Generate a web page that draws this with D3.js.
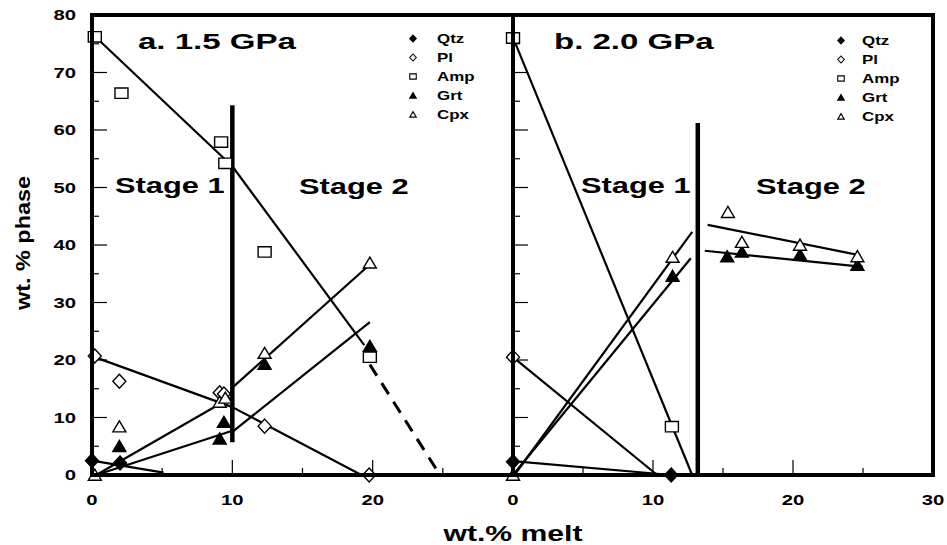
<!DOCTYPE html>
<html>
<head>
<meta charset="utf-8">
<script src="https://cdn.jsdelivr.net/npm/d3@7"></script>
<style>
  body { margin: 0; background: #fff; }
  svg { display: block; }
  text { font-family: "Liberation Sans", Arial, Helvetica, sans-serif; font-weight: bold; fill: #000; }
</style>
</head>
<body>
<svg id="chart" width="947" height="545"></svg>
<script>
// ---- data -------------------------------------------------------------
const phases = ["Qtz", "Pl", "Amp", "Grt", "Cpx"];
const yTickLabels = [0, 10, 20, 30, 40, 50, 60, 70, 80];
const xTickLabelsA = [0, 10, 20];
const xTickLabelsB = [0, 10, 20, 30];
const panelTitles = ["a. 1.5 GPa", "b. 2.0 GPa"];

// a. 1.5 GPa : [wt.% melt, wt.% phase]
const qtzA = [[0, 2.5], [2, 2.1]];
const plA  = [[0.2, 20.7], [1.95, 16.3], [9.1, 14.3], [9.4, 14.1], [12.3, 8.5], [19.75, 0]];
const ampA = [[0.2, 76.2], [2.1, 66.4], [9.2, 57.9], [9.5, 54.2], [12.3, 38.8], [19.8, 20.5]];
const grtA = [[1.95, 5.0], [9.1, 6.3], [9.4, 9.2], [12.3, 19.3], [19.8, 22.4]];
const cpxA = [[0.2, 0], [1.95, 8.4], [9.1, 12.7], [9.5, 13.4], [12.3, 21.2], [19.8, 36.9]];
// trend segments: [phase, x1, y1, x2, y2]
const trendsA = [
  ["Amp", 0.2, 76.3, 10, 53.7], ["Amp", 10, 53.7, 19.4, 22.6],
  ["Pl", 0.2, 20.5, 10, 11.8],  ["Pl", 10, 11.8, 19.2, 0],
  ["Qtz", 0, 2.5, 5.1, 0.4],
  ["Grt", 0.3, 0, 10, 7.7],     ["Grt", 10, 7.5, 19.8, 26.6],
  ["Cpx", 0.3, 0, 10, 13.6],    ["Cpx", 10, 15.2, 19.8, 36.6]
];
const projectedA = [["Amp", 19.8, 19.2, 24.8, 0]];
const stageBreakA = [10, 5.7, 64.3];   // melt %, from, to

// b. 2.0 GPa
const qtzB = [[0, 2.3], [11.3, 0]];
const plB  = [[0, 20.5]];
const ampB = [[0, 76], [11.35, 8.4]];
const grtB = [[11.4, 34.6], [15.3, 38.0], [16.35, 38.8], [20.5, 38.3], [24.6, 36.5]];
const cpxB = [[0, 0], [11.4, 37.9], [15.35, 45.7], [16.35, 40.5], [20.5, 40.0], [24.6, 38.0]];
const trendsB = [
  ["Amp", 0.1, 75.5, 12.8, 0], ["Pl", 0, 20.5, 10.3, 0], ["Qtz", 0, 2.4, 11.3, 0],
  ["Grt", 0, 0, 12.7, 37.7],   ["Cpx", 0.1, 0, 12.8, 42.3],
  ["Cpx", 13.9, 43.5, 24.8, 38.2], ["Grt", 13.7, 39.0, 25, 36.2]
];
const projectedB = [];
const stageBreakB = [13.2, 0, 61.2];

// ---- layout -----------------------------------------------------------
const svg = d3.select("#chart");
const plotTop = 15, plotBottom = 475;
const y = d3.scaleLinear().domain([0, 80]).range([plotBottom, plotTop]);
const xA = d3.scaleLinear().domain([0, 30]).range([92, 513]);
const xB = d3.scaleLinear().domain([0, 30]).range([513, 933]);

// stretched bold text, matching a wide grotesque face
function label(g, s, x, yPos, size, k, anchor = "start") {
  const t = g.append("text").attr("font-size", size).text(s);
  const w = t.node().getComputedTextLength() * k;
  const x0 = anchor === "middle" ? x - w / 2 : anchor === "end" ? x - w : x;
  t.attr("x", x0).attr("y", yPos)
   .attr("textLength", w).attr("lengthAdjust", "spacingAndGlyphs");
  return t;
}

// marker shapes
function symbolPath(type, s) {
  const w = 6.5 * s, h = 5.2 * s;
  switch (type) {
    case "Qtz":
    case "Pl":  return `M0,${-7 * s}L${w},0L0,${7 * s}L${-w},0Z`;
    case "Amp": return `M${-w},${-h}H${w}V${h}H${-w}Z`;
    default:    return `M0,${-5.8 * s}L${w},${5.2 * s}L${-w},${5.2 * s}Z`;
  }
}
const filled = { Qtz: true, Pl: false, Amp: false, Grt: true, Cpx: false };

function drawMarkers(g, x, type, pts) {
  g.selectAll(null).data(pts).join("path")
    .attr("transform", d => `translate(${x(d[0])},${y(d[1])})`)
    .attr("d", symbolPath(type, 1))
    .attr("fill", filled[type] ? "#000" : "#fff")
    .attr("stroke", "#000").attr("stroke-width", 1.4)
    .attr("stroke-linejoin", "miter");
}

function drawPanel(x, cfg) {
  const g = svg.append("g");

  // trend lines
  g.selectAll(null).data(cfg.trends).join("line")
    .attr("x1", d => x(d[1])).attr("y1", d => y(d[2]))
    .attr("x2", d => x(d[3])).attr("y2", d => y(d[4]))
    .attr("stroke", "#000").attr("stroke-width", 2.2);
  g.selectAll(null).data(cfg.projected).join("line")
    .attr("x1", d => x(d[1])).attr("y1", d => y(d[2]))
    .attr("x2", d => x(d[3])).attr("y2", d => y(d[4]))
    .attr("stroke", "#000").attr("stroke-width", 3)
    .attr("stroke-dasharray", "13,9");

  // stage boundary
  g.append("line")
    .attr("x1", x(cfg.stage[0])).attr("x2", x(cfg.stage[0]))
    .attr("y1", y(cfg.stage[1])).attr("y2", y(cfg.stage[2]))
    .attr("stroke", "#000").attr("stroke-width", 4.5);

  // inward ticks on the left axis
  const yMinor = d3.range(5, 80, 5);
  g.selectAll(null).data(yMinor).join("line")
    .attr("x1", x(0)).attr("x2", d => x(0) + (d % 10 === 0 ? 15 : 7))
    .attr("y1", d => y(d)).attr("y2", d => y(d))
    .attr("stroke", "#000").attr("stroke-width", 1.2);

  // inward ticks on the bottom axis
  g.selectAll(null).data(d3.range(5, 30, 5)).join("line")
    .attr("x1", d => x(d)).attr("x2", d => x(d))
    .attr("y1", y(0)).attr("y2", d => y(0) - (d % 10 === 0 ? 15 : 7))
    .attr("stroke", "#000").attr("stroke-width", 1.2);

  // x tick labels
  cfg.xLabels.forEach(v => label(g, String(v), x(v), 505, 15, 1.35, "middle"));

  // panel title and stage names
  label(g, cfg.title, cfg.titleX, 49, 22, 1.5);
  label(g, "Stage 1", cfg.stage1X, 193, 22, 1.4);
  label(g, "Stage 2", cfg.stage2X, 194, 22, 1.4);

  // legend
  phases.forEach((p, i) => {
    const by = cfg.legendY + i * 19;
    g.append("path")
      .attr("transform", `translate(${cfg.legendSymX},${by - 4.5})`)
      .attr("d", symbolPath(p, 0.5))
      .attr("fill", filled[p] ? "#000" : "#fff")
      .attr("stroke", "#000").attr("stroke-width", 1.1);
    label(g, p, cfg.legendTextX, by, 13, 1.3);
  });

  return g;
}

const gA = drawPanel(xA, {
  trends: trendsA, projected: projectedA, stage: stageBreakA, xLabels: xTickLabelsA,
  title: panelTitles[0], titleX: 138, stage1X: 115, stage2X: 299,
  legendY: 43, legendSymX: 413, legendTextX: 437
});
const gB = drawPanel(xB, {
  trends: trendsB, projected: projectedB, stage: stageBreakB, xLabels: xTickLabelsB,
  title: panelTitles[1], titleX: 554, stage1X: 581, stage2X: 756,
  legendY: 45, legendSymX: 841, legendTextX: 862
});

// frame: outer box plus the shared boundary between the panels
const frame = svg.append("g").attr("stroke", "#000").attr("stroke-width", 4).attr("fill", "none");
frame.append("rect").attr("x", xA(0)).attr("y", y(80))
  .attr("width", xB(30) - xA(0)).attr("height", y(0) - y(80));
frame.append("line").attr("x1", xB(0)).attr("x2", xB(0)).attr("y1", y(80)).attr("y2", y(0));

// y tick labels
yTickLabels.forEach(v => label(svg, String(v), 76, y(v) + 5, 15, 1.35, "end"));

// markers on top
[[gA, xA, { Amp: ampA, Pl: plA, Qtz: qtzA, Grt: grtA, Cpx: cpxA }],
 [gB, xB, { Amp: ampB, Pl: plB, Qtz: qtzB, Grt: grtB, Cpx: cpxB }]].forEach(([g, x, sets]) => {
  ["Amp", "Pl", "Qtz", "Grt", "Cpx"].forEach(p => drawMarkers(g, x, p, sets[p]));
});

// axis titles
label(svg, "wt.% melt", 513, 541, 22, 1.37, "middle");
const yt = svg.append("g").attr("transform", "translate(30,243) rotate(-90)");
label(yt, "wt. % phase", 0, 0, 20, 1.17, "middle");
</script>
</body>
</html>
